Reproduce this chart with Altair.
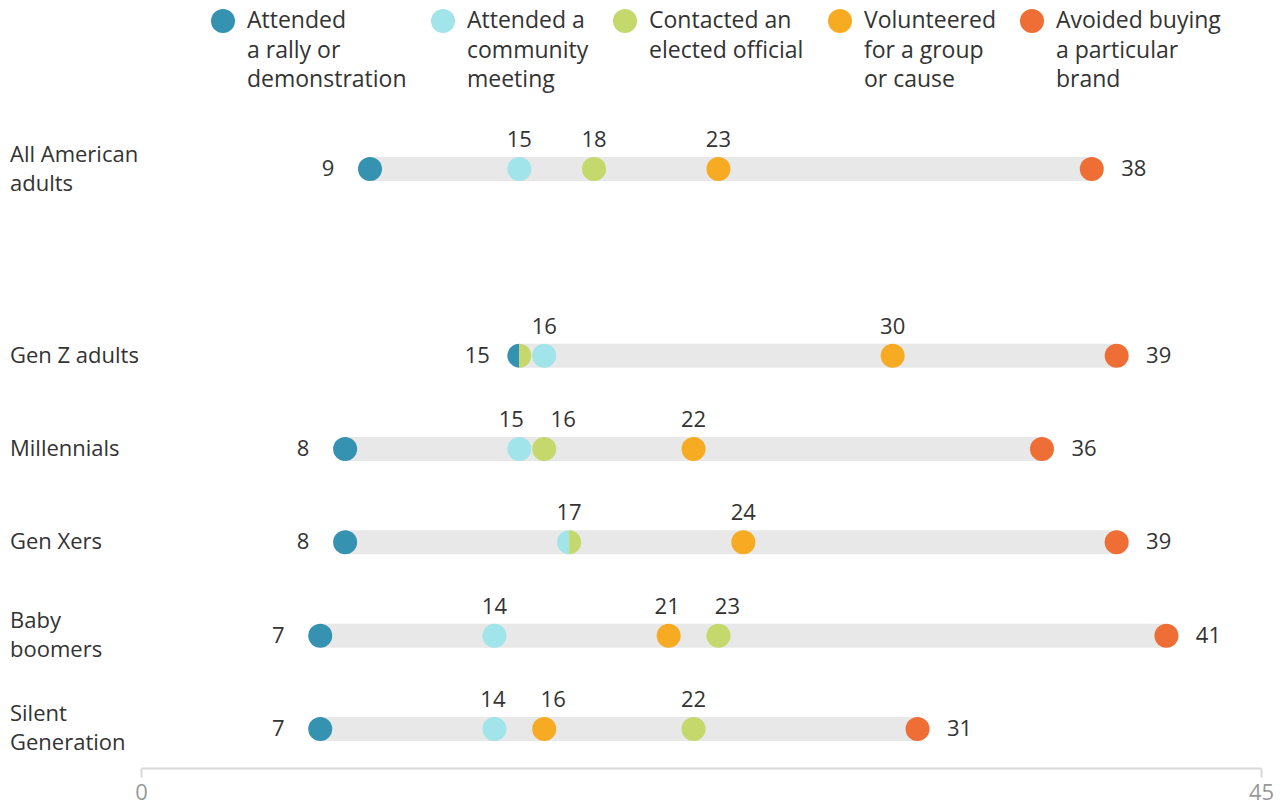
import altair as alt
import pandas as pd

groups = ["All American adults", "Gen Z adults", "Millennials", "Gen Xers",
          "Baby boomers", "Silent Generation"]
group_labels = ["All American\nadults", "Gen Z adults", "Millennials", "Gen Xers",
                "Baby\nboomers", "Silent\nGeneration"]
series = ["Attended|a rally or|demonstration", "Attended a|community|meeting",
          "Contacted an|elected official| ", "Volunteered|for a group|or cause",
          "Avoided buying|a particular|brand"]
colors = ["#3592b0", "#a1e4ea", "#c5d86c", "#f6ab22", "#ee6e35"]

rally = [9, 15, 8, 8, 7, 7]
community = [15, 16, 15, 17, 14, 14]
contacted = [18, 15, 16, 17, 23, 22]
volunteered = [23, 30, 22, 24, 21, 16]
avoided = [38, 39, 36, 39, 41, 31]
all_vals = [rally, community, contacted, volunteered, avoided]

y_domain = [groups[0], " "] + groups[1:]

pts, lbls, spans = [], [], []
for gi, g in enumerate(groups):
    vals = [s[gi] for s in all_vals]
    seen = set()
    for si, s in enumerate(series):
        v = vals[si]
        if vals.count(v) > 1:
            shp = "right" if v in seen else "left"
        else:
            shp = "circle"
        seen.add(v)
        pts.append({"group": g, "series": s, "value": v, "shape": shp})
    lo, hi = min(vals), max(vals)
    spans.append({"group": g, "value": lo, "max": hi})
    uniq = sorted(set(vals))
    nudge = {v: 0.0 for v in uniq}
    tops = [v for v in uniq if v not in (lo, hi)]
    # spread apart labels of close values so they do not collide
    for a, b in zip(tops, tops[1:]):
        if b - a <= 1:
            nudge[a] -= 0.32
            nudge[b] += 0.76
        elif b - a <= 2:
            nudge[a] -= 0.06
            nudge[b] += 0.36
    for v in uniq:
        pos = "left" if v == lo else ("right" if v == hi else "top")
        lbls.append({"group": g, "value": v + nudge[v], "pos": pos, "txt": str(v)})

pts_df = pd.DataFrame(pts)
lbl_df = pd.DataFrame(lbls)
span_df = pd.DataFrame(spans)
ylab_df = pd.DataFrame({"group": groups, "label": group_labels})
ylab_df["lines"] = ylab_df["label"].str.count("\n") + 1

FONT = "Open Sans"
FS = 22
TXT = "#333333"

x_scale = alt.Scale(domain=[0, 45], nice=False, zero=True)
x_axis = alt.Axis(values=[0, 45], title=None, grid=False, domainColor="#d9d9d9",
                  domainWidth=2, tickColor="#d9d9d9", tickWidth=2, tickSize=9,
                  labelFontSize=FS, labelColor="#999999", labelFont=FONT,
                  labelPadding=5, labelFlush=False)
y_enc = alt.Y("group:N", scale=alt.Scale(type="point", domain=y_domain, padding=0.418),
              axis=None)

XOFF = 5

span = alt.Chart(span_df).mark_rule(strokeWidth=24, color="#e7e8e7", xOffset=XOFF, x2Offset=XOFF).encode(
    x=alt.X("value:Q", scale=x_scale, axis=x_axis),
    x2="max:Q",
    y=y_enc,
)

left_path = "M0,-1A1,1,0,0,0,0,1Z"
right_path = "M0,-1A1,1,0,0,1,0,1Z"

dots = alt.Chart(pts_df).mark_point(filled=True, size=576, opacity=1, strokeWidth=0, xOffset=XOFF).encode(
    x=alt.X("value:Q", scale=x_scale, axis=x_axis),
    y=y_enc,
    color=alt.Color("series:N", scale=alt.Scale(domain=series, range=colors),
                    legend=alt.Legend(orient="none", legendX=70, legendY=-121,
                                      direction="horizontal", columns=5, title=None,
                                      labelExpr="split(datum.label, '|')",
                                      labelFontSize=23, labelFont=FONT, labelColor=TXT,
                                      labelLimit=400, symbolType="circle", symbolSize=576,
                                      symbolStrokeWidth=0, symbolOpacity=1,
                                      columnPadding=24, labelOffset=12,
                                      labelBaseline="middle")),
    shape=alt.Shape("shape:N", scale=alt.Scale(domain=["circle", "left", "right"],
                                               range=["circle", left_path, right_path]),
                    legend=None),
)

def lab(pos, **kw):
    return alt.Chart(lbl_df).transform_filter(alt.datum.pos == pos).mark_text(
        font=FONT, fontSize=FS, color=TXT, **kw).encode(
        x=alt.X("value:Q", scale=x_scale, axis=x_axis),
        y=y_enc,
        text="txt:N",
    )

lab_left = lab("left", align="center", baseline="middle", dx=-42 + XOFF)
lab_right = lab("right", align="center", baseline="middle", dx=42 + XOFF)
lab_top = lab("top", align="center", baseline="middle", dx=XOFF, dy=-29)

def ylab(n, dy):
    return alt.Chart(ylab_df).transform_filter(alt.datum.lines == n).mark_text(
        font=FONT, fontSize=FS, color=TXT, align="left", baseline="middle",
        lineBreak="\n", lineHeight=29, dy=dy).encode(
        x=alt.value(-131),
        y=y_enc,
        text="label:N",
    )

chart = alt.layer(span, dots, lab_left, lab_right, lab_top, ylab(1, 0), ylab(2, -14.5)).properties(
    width=1120, height=638,
    autosize=alt.AutoSizeParams(type="none"),
    padding={"left": 133, "top": 122, "right": 15, "bottom": 35},
    background="white",
).configure(style={"guide-label": {"lineHeight": 29.5}}).configure_view(stroke=None)

chart.save("out.html", embed_options={"renderer": "svg", "actions": False})
